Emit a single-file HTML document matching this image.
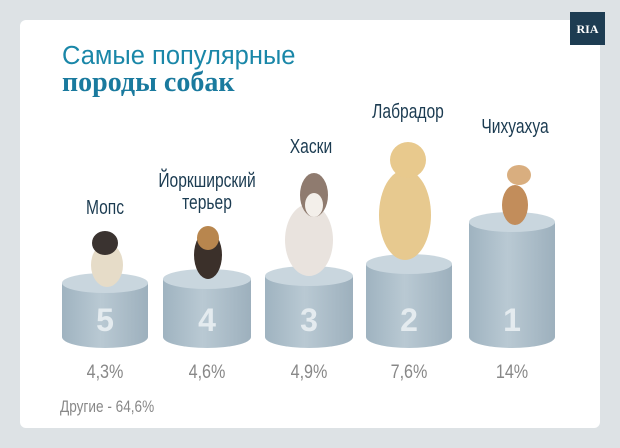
<!DOCTYPE html>
<html><head><meta charset="utf-8"><style>
body{margin:0;width:620px;height:448px;overflow:hidden;background:#dde2e5;font-family:"Liberation Sans",sans-serif}
.card{position:absolute;left:20px;top:20px;width:580px;height:408px;background:#fff;border-radius:6px}
.logo{position:absolute;left:570px;top:12px;width:35px;height:33px;background:#1d3c52;color:#fff;font:bold 12px "Liberation Serif",serif;text-align:center;line-height:34px}
.t1{position:absolute;left:62px;top:42px;font-size:25.5px;color:#1a87a8}
.t2{position:absolute;left:62px;top:67px;font:bold 28px "Liberation Serif",serif;color:#1a7a9e}
.lab{position:absolute;color:#1b3b51;font-size:20px;text-align:center;width:160px;line-height:22px;transform:scaleX(0.78)}
.pct{position:absolute;color:#888;font-size:19px;width:100px;text-align:center;top:362px;transform:scaleX(0.85)}
.oth{position:absolute;left:60px;top:397px;color:#888;font-size:17px;transform:scaleX(0.8);transform-origin:left}
</style></head><body>
<div class="card"></div>
<div class="logo">RIA</div>
<div class="t1">Самые популярные</div>
<div class="t2">породы собак</div>
<svg width="620" height="448" style="position:absolute;left:0;top:0">
<defs><linearGradient id="g" x1="0" x2="1"><stop offset="0" stop-color="#9fb3c0"/><stop offset=".45" stop-color="#b9c9d3"/><stop offset="1" stop-color="#9db0bd"/></linearGradient></defs>
<g font-family="Liberation Sans" font-weight="bold" font-size="32" fill="#e4ebef" text-anchor="middle">
<path d="M62 283V337A43 11 0 0 0 148 337V283Z" fill="url(#g)"/><ellipse cx="105" cy="283" rx="43" ry="10" fill="#c9d6de"/><text x="105" y="331">5</text>
<path d="M163 279V337A44 11 0 0 0 251 337V279Z" fill="url(#g)"/><ellipse cx="207" cy="279" rx="44" ry="10" fill="#c9d6de"/><text x="207" y="331">4</text>
<path d="M265 276V337A44 11 0 0 0 353 337V276Z" fill="url(#g)"/><ellipse cx="309" cy="276" rx="44" ry="10" fill="#c9d6de"/><text x="309" y="331">3</text>
<path d="M366 264V337A43 11 0 0 0 452 337V264Z" fill="url(#g)"/><ellipse cx="409" cy="264" rx="43" ry="10" fill="#c9d6de"/><text x="409" y="331">2</text>
<path d="M469 222V337A43 11 0 0 0 555 337V222Z" fill="url(#g)"/><ellipse cx="512" cy="222" rx="43" ry="10" fill="#c9d6de"/><text x="512" y="331">1</text>
</g>
<ellipse cx="107" cy="265" rx="16" ry="22" fill="#e6dcc8"/><ellipse cx="105" cy="243" rx="13" ry="12" fill="#3a3330"/>
<ellipse cx="208" cy="255" rx="14" ry="24" fill="#3b302a"/><ellipse cx="208" cy="238" rx="11" ry="12" fill="#b8864e"/>
<ellipse cx="309" cy="240" rx="24" ry="36" fill="#e9e3de"/><ellipse cx="314" cy="195" rx="14" ry="22" fill="#8f7b6f"/><ellipse cx="314" cy="205" rx="9" ry="12" fill="#f3efea"/>
<ellipse cx="405" cy="215" rx="26" ry="45" fill="#e7c98f"/><ellipse cx="408" cy="160" rx="18" ry="18" fill="#e8c98d"/>
<ellipse cx="515" cy="205" rx="13" ry="20" fill="#c28d5b"/><ellipse cx="519" cy="175" rx="12" ry="10" fill="#d9ae7f"/>
</svg>
<div class="lab" style="left:25px;top:197px">Мопс</div>
<div class="lab" style="left:127px;top:170px">Йоркширский<br>терьер</div>
<div class="lab" style="left:231px;top:136px">Хаски</div>
<div class="lab" style="left:328px;top:101px">Лабрадор</div>
<div class="lab" style="left:435px;top:116px">Чихуахуа</div>
<div class="pct" style="left:55px">4,3%</div>
<div class="pct" style="left:157px">4,6%</div>
<div class="pct" style="left:259px">4,9%</div>
<div class="pct" style="left:359px">7,6%</div>
<div class="pct" style="left:462px">14%</div>
<div class="oth">Другие - 64,6%</div>
</body></html>
